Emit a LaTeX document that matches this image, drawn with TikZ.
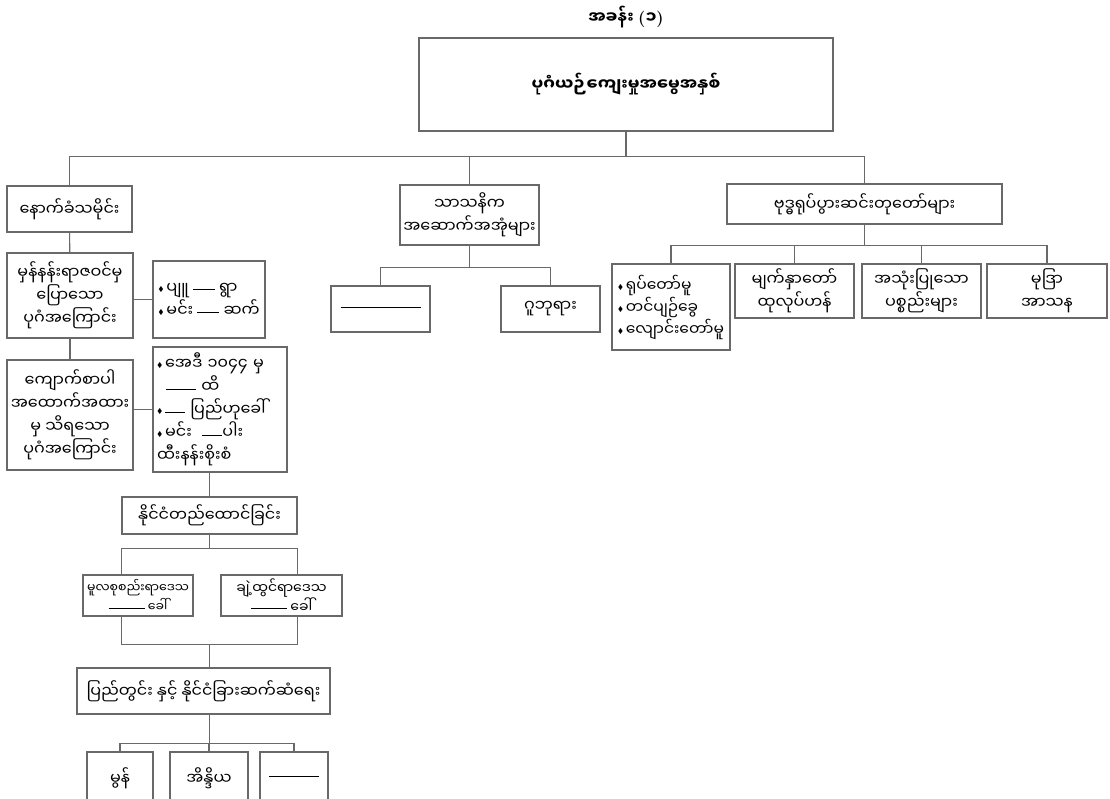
\documentclass[tikz,border=0pt]{standalone}
\usepackage{amssymb}
\usepackage{fontspec}
\newfontfamily\mmfont[Script=Myanmar]{Noto Sans Myanmar UI}
\definecolor{linegray}{RGB}{105,105,105}
\newcommand{\mmtext}{\mmfont\fontsize{16}{23}\selectfont}
\newcommand{\mmhead}{\mmfont\bfseries\fontsize{16.5}{23}\selectfont}
\newcommand{\gap}[1]{\rule[3pt]{#1}{0.9pt}}
\newcommand{\bul}{\raisebox{2pt}{\scriptsize$\blacklozenge$}\,}
\newcommand{\lpar}{{\rmfamily\bfseries(}}
\newcommand{\rpar}{{\rmfamily\bfseries)}}
\tikzset{every picture/.style={line width=1.1pt}}
\tikzset{
  box/.style={draw=linegray, inner sep=2pt, align=center, font=\mmtext},
  sidebox/.style={box, align=left, inner sep=3pt},
  wire/.style={draw=linegray},
}

\begin{document}
\begin{tikzpicture}[x=1pt,y=1pt,yscale=-1,xscale=1]
\useasboundingbox (0,0) rectangle (1110,798);

% Text Node
\node [font=\mmhead] (title) at (626,17) {အခန်း \lpar ၁\rpar};
%Shape: Rectangle
\node [box, minimum width=414, minimum height=93, font=\mmhead] (top) at (626,84.5) {ပုဂံယဉ်ကျေးမှုအမွေအနှစ်};

%Shape: Rectangle (left column)
\node [box, minimum width=125, minimum height=46] (bg) at (69.5,209) {နောက်ခံသမိုင်း};
\node [box, minimum width=126, minimum height=85] (chron) at (70,295.5) {မှန်နန်းရာဇဝင်မှ\\ပြောသော\\ပုဂံအကြောင်း};
\node [sidebox, minimum width=112, minimum height=77] (chronx) at (209,299.5) {\bul ပျူ \gap{22pt} ရွာ\\\bul မင်း \gap{22pt} ဆက်};
\node [box, minimum width=126, minimum height=110] (stone) at (70,415) {ကျောက်စာပါ\\အထောက်အထား\\မှ သိရသော\\ပုဂံအကြောင်း};
\node [sidebox, text width=126, minimum height=125, inner sep=4pt] (stonex) at (220,409.5) {\bul အေဒီ ၁၀၄၄ မှ\\\hspace*{9pt}\gap{30pt} ထိ\\\bul \gap{20pt} ပြည်ဟုခေါ်\\\bul မင်း \ \gap{20pt}ပါး\\ထီးနန်းစိုးစံ};
\node [box, minimum width=175, minimum height=37] (found) at (209.5,515.5) {နိုင်ငံတည်ထောင်ခြင်း};
\node [box, minimum width=110, minimum height=41, inner sep=0pt, font=\mmfont\fontsize{12.5}{19}\selectfont] (core) at (138,595.5) {မူလစုစည်းရာဒေသ\\\gap{36pt} ခေါ်};
\node [box, minimum width=121, minimum height=41, inner sep=0pt, font=\mmfont\fontsize{14}{19}\selectfont] (wide) at (281.5,595.5) {ချဲ့ထွင်ရာဒေသ\\\gap{36pt} ခေါ်};
\node [box, minimum width=253, minimum height=46] (rel) at (203.5,691) {ပြည်တွင်း နှင့် နိုင်ငံခြားဆက်ဆံရေး};
\node [box, minimum width=66, minimum height=52] (mon) at (120,778) {မွန်};
\node [box, minimum width=78, minimum height=52] (india) at (209,778) {အိန္ဒိယ};
\node [box, minimum width=68, minimum height=52] (other) at (294,778) {\gap{50pt}};

%Shape: Rectangle (middle column)
\node [box, minimum width=139, minimum height=60] (sasana) at (469.5,215) {သာသနိက\\အဆောက်အအုံများ};
\node [box, minimum width=99, minimum height=46] (temple) at (380.5,309) {\gap{80pt}};
\node [box, minimum width=99, minimum height=46] (cave) at (550.5,309) {ဂူဘုရား};

%Shape: Rectangle (right column)
\node [box, minimum width=275, minimum height=40] (image) at (864.5,204) {ဗုဒ္ဓရုပ်ပွားဆင်းတုတော်များ};
\node [sidebox, minimum width=118, minimum height=86, font=\mmfont\fontsize{15.5}{22}\selectfont] (pose) at (671,307) {\bul ရုပ်တော်မူ\\\bul တင်ပျဉ်ခွေ\\\bul လျောင်းတော်မူ};
\node [box, minimum width=119, minimum height=54] (face) at (794.5,291) {မျက်နှာတော်\\ထုလုပ်ဟန်};
\node [box, minimum width=119, minimum height=54] (stuff) at (921.5,291) {အသုံးပြုသော\\ပစ္စည်းများ};
\node [box, minimum width=120, minimum height=54] (mudra) at (1047,291) {မုဒြာ\\အာသန};

%Straight Lines
\draw [wire] (top.south) -- ++(0,25) coordinate (b1);
\draw [wire] (bg.north) |- (b1) -| (image.north);
\draw [wire] (b1) -| (sasana.north);

\draw [wire] (bg) -- (chron);
\draw [wire] (chron) -- (stone);
\draw [wire] (chronx.west) -- (chronx.west -| chron.east);
\draw [wire] (stonex.west) -- (stonex.west -| stone.east);
\draw [wire] (found.north) -- (found.north |- stonex.south);

\draw [wire] (found.south) -- ++(0,14) coordinate (b4);
\draw [wire] (core.north -| found.west) |- (b4) -| (wide.north -| found.east);
\draw [wire] (rel.north -| found.south) -- ++(0,-23) coordinate (b5);
\draw [wire] (core.south -| found.west) |- (b5) -| (wide.south -| found.east);

\draw [wire] (rel.south -| found.south) -- ++(0,29) coordinate (b6);
\draw [wire] (mon.north) |- (b6) -| (other.north);
\draw [wire] (b6) -| (india.north);

\draw [wire] (sasana.south) -- ++(0,22) coordinate (b2);
\draw [wire] (temple.north) |- (b2) -| (cave.north);

\draw [wire] (image.south) -- ++(0,21) coordinate (b3);
\draw [wire] (pose.north) |- (b3) -| (mudra.north);
\draw [wire] (b3) -| (face.north);
\draw [wire] (b3) -| (stuff.north);

\end{tikzpicture}
\end{document}
